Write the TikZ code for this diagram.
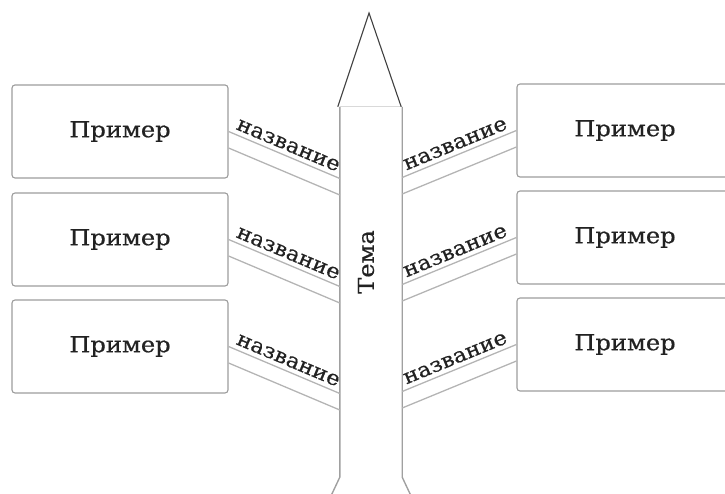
\documentclass[tikz,border=0pt]{standalone}
\usepackage{fontspec}
\setmainfont{DejaVu Serif}[FakeStretch=1.1, FakeBold=0.5]
\usetikzlibrary{calc}
\definecolor{boxline}{HTML}{9C9C9C}
\definecolor{conline}{HTML}{B4B4B4}
\definecolor{shaftline}{HTML}{A0A0A0}
\definecolor{txt}{HTML}{222222}
\tikzset{
  exbox/.style={draw=boxline, line width=1.1pt, rounded corners=3pt, minimum width=216pt, minimum height=93pt, inner sep=0pt, text=txt, font=\fontsize{22}{26}\selectfont},
  conn/.style={draw=conline, line width=1.3pt},
  lbl/.style={sloped, above=3pt, inner sep=1pt, text=txt, font=\fontsize{20.5}{24}\selectfont},
  side/.style={draw=shaftline, line width=1.4pt},
}
\begin{document}
\begin{tikzpicture}[x=1pt,y=1pt]
\useasboundingbox (0,0) rectangle (725,494);
\clip (0,0) rectangle (725,494);
% boxes
\node[exbox] (L1) at (120,362.5) {Пример};
\node[exbox] (L2) at (120,254.5) {Пример};
\node[exbox] (L3) at (120,147.5) {Пример};
\node[exbox] (R1) at (625,363.5) {Пример};
\node[exbox] (R2) at (625,256.5) {Пример};
\node[exbox] (R3) at (625,149.5) {Пример};
% shaft
\node[minimum width=62pt, minimum height=370pt, inner sep=0pt] (shaft) at (371,202) {};
\node[rotate=90, text=txt, font=\fontsize{22}{26}\selectfont] (tema) at (366,232) {Тема};
\coordinate (apex) at (369,481);
\coordinate (bl) at ($(shaft.north west)+(-2,0)$);
\coordinate (br) at ($(shaft.north east)+(-1,0)$);
\coordinate (fl) at ($(shaft.south west)+(-8,-17)$);
\coordinate (fr) at ($(shaft.south east)+(8,-17)$);
\draw[side] (shaft.north west) -- (shaft.south west) -- (fl);
\draw[side] (shaft.north east) -- (shaft.south east) -- (fr);
\draw[draw=black!15, line width=1pt] (shaft.north west) -- (shaft.north east);
\draw[draw=black!75, line width=1.1pt] (bl) -- (apex) -- (br);
% left connectors
\foreach \b in {L1,L2,L3}{
  \draw[conn] (\b.east) -- node[lbl] {название} ($(\b.east)+(0,-47)-(\b.east |- shaft.west)+(shaft.west)$);
  \draw[conn] ($(\b.east)+(0,-16.5)$) -- ($(\b.east)+(0,-63.5)-(\b.east |- shaft.west)+(shaft.west)$);
}
% right connectors
\foreach \b in {R1,R2,R3}{
  \draw[conn] ($(\b.west)+(0,-47)-(\b.west |- shaft.east)+(shaft.east)$) -- node[lbl] {название} (\b.west);
  \draw[conn] ($(\b.west)+(0,-63.5)-(\b.west |- shaft.east)+(shaft.east)$) -- ($(\b.west)+(0,-16.5)$);
}
\end{tikzpicture}
\end{document}
